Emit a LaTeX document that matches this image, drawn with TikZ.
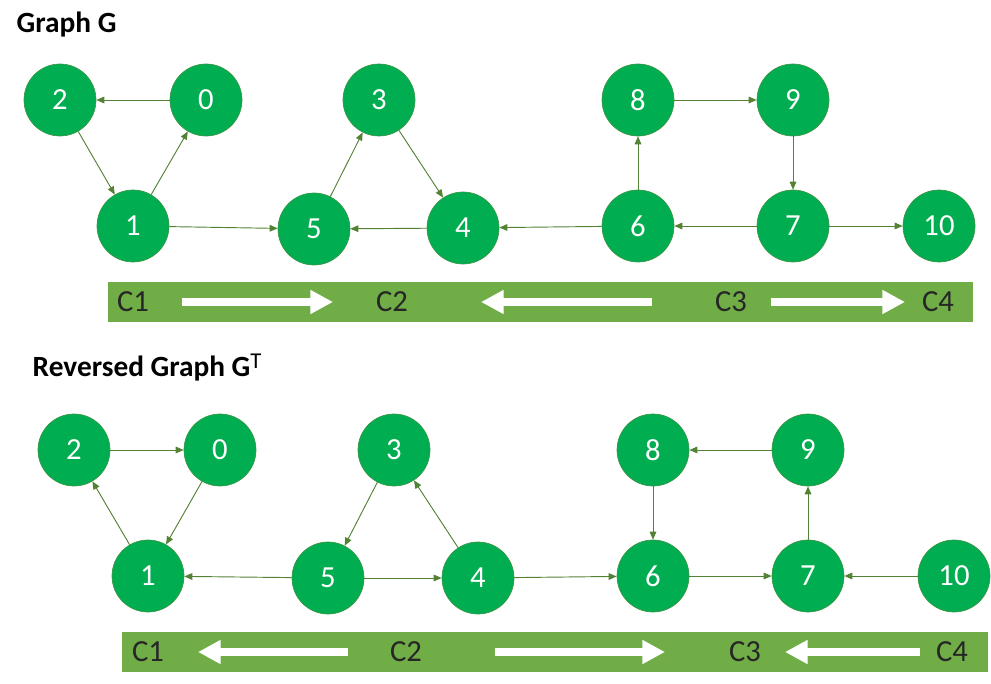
\documentclass[tikz,border=0pt]{standalone}
\usepackage{fontspec}
\setmainfont{Carlito}
\usetikzlibrary{arrows.meta}
\definecolor{nodegreen}{RGB}{0,173,80}
\definecolor{nodeborder}{RGB}{60,150,70}
\definecolor{edgegreen}{RGB}{84,130,53}
\definecolor{bargreen}{RGB}{112,173,71}
\definecolor{bartext}{RGB}{38,38,38}

\begin{document}
\begin{tikzpicture}[
    x=0.75pt, y=-0.75pt,
    vertex/.style={circle, fill=nodegreen, draw=nodeborder, line width=0.5pt, minimum size=54pt, inner sep=0pt, text=white, font=\fontsize{23}{25}\selectfont},
    edge/.style={draw=edgegreen, line width=0.7pt, -{Triangle[length=6pt,width=5pt]}},
    bar/.style={fill=bargreen},
    barlabel/.style={text=bartext, font=\fontsize{23}{25}\selectfont},
    flow/.style={draw=white, line width=6pt, -{Triangle[length=17pt,width=17pt]}},
    title/.style={anchor=base west, font=\bfseries\fontsize{22}{24}\selectfont}
]
    \useasboundingbox (0,0) rectangle (991,684);

    % Graph G
    \node[title] (tg) at (12,33) {Graph G};
    \node[vertex] (g2) at (60,100) {2};
    \node[vertex] (g0) at (206,100) {0};
    \node[vertex] (g3) at (379,100) {3};
    \node[vertex] (g8) at (638,100) {8};
    \node[vertex] (g9) at (793,100) {9};
    \node[vertex] (g1) at (133,226) {1};
    \node[vertex] (g5) at (314,229) {5};
    \node[vertex] (g4) at (463,228) {4};
    \node[vertex] (g6) at (638,226) {6};
    \node[vertex] (g7) at (793,226) {7};
    \node[vertex] (g10) at (939,226) {10};

    \draw[edge] (g0) -- (g2);
    \draw[edge] (g2) -- (g1);
    \draw[edge] (g1) -- (g0);
    \draw[edge] (g1) -- (g5);
    \draw[edge] (g5) -- (g3);
    \draw[edge] (g3) -- (g4);
    \draw[edge] (g4) -- (g5);
    \draw[edge] (g6) -- (g4);
    \draw[edge] (g6) -- (g8);
    \draw[edge] (g8) -- (g9);
    \draw[edge] (g9) -- (g7);
    \draw[edge] (g7) -- (g6);
    \draw[edge] (g7) -- (g10);

    % Components of G
    \fill[bar] (108,282) rectangle (973,322);
    \node[barlabel] (gc1) at (133,302) {C1};
    \node[barlabel] (gc2) at (392,302) {C2};
    \node[barlabel] (gc3) at (731,302) {C3};
    \node[barlabel] (gc4) at (938,302) {C4};
    \coordinate (ga) at (182,302);
    \coordinate (gb) at (333,302);
    \coordinate (gc) at (652,302);
    \coordinate (gd) at (481,302);
    \coordinate (ge) at (771,302);
    \coordinate (gf) at (905,302);
    \draw[flow] (ga) -- (gb);
    \draw[flow] (gc) -- (gd);
    \draw[flow] (ge) -- (gf);

    % Reversed graph
    \node[title] (tr) at (28,376) {Reversed Graph G\raisebox{0.55ex}{\mdseries\fontsize{17}{17}\selectfont T}};
    \node[vertex] (r2) at (74,450) {2};
    \node[vertex] (r0) at (220,450) {0};
    \node[vertex] (r3) at (394,450) {3};
    \node[vertex] (r8) at (653,450) {8};
    \node[vertex] (r9) at (808,450) {9};
    \node[vertex] (r1) at (148,576) {1};
    \node[vertex] (r5) at (328,578) {5};
    \node[vertex] (r4) at (478,578) {4};
    \node[vertex] (r6) at (653,576) {6};
    \node[vertex] (r7) at (808,576) {7};
    \node[vertex] (r10) at (954,576) {10};

    \draw[edge] (r2) -- (r0);
    \draw[edge] (r0) -- (r1);
    \draw[edge] (r1) -- (r2);
    \draw[edge] (r5) -- (r1);
    \draw[edge] (r3) -- (r5);
    \draw[edge] (r4) -- (r3);
    \draw[edge] (r5) -- (r4);
    \draw[edge] (r4) -- (r6);
    \draw[edge] (r8) -- (r6);
    \draw[edge] (r9) -- (r8);
    \draw[edge] (r7) -- (r9);
    \draw[edge] (r6) -- (r7);
    \draw[edge] (r10) -- (r7);

    % Components of G^T
    \fill[bar] (122,632) rectangle (988,672);
    \node[barlabel] (rc1) at (148,652) {C1};
    \node[barlabel] (rc2) at (406,652) {C2};
    \node[barlabel] (rc3) at (745,652) {C3};
    \node[barlabel] (rc4) at (952,652) {C4};
    \coordinate (ra) at (348,652);
    \coordinate (rb) at (198,652);
    \coordinate (rc) at (495,652);
    \coordinate (rd) at (665,652);
    \coordinate (re) at (920,652);
    \coordinate (rf) at (785,652);
    \draw[flow] (ra) -- (rb);
    \draw[flow] (rc) -- (rd);
    \draw[flow] (re) -- (rf);
\end{tikzpicture}
\end{document}
